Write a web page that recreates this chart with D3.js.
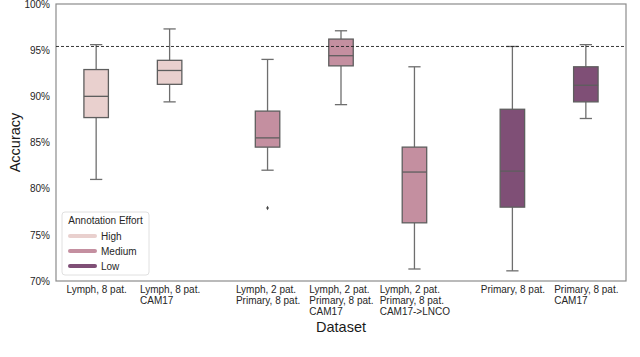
<!DOCTYPE html>
<html>
<head>
<meta charset="utf-8">
<script src="https://cdnjs.cloudflare.com/ajax/libs/d3/7.8.5/d3.min.js"></script>
<style>
  body { margin: 0; background: #fff; }
  svg { font-family: "Liberation Sans", Arial, sans-serif; }
  .tick-label { font-size: 10px; fill: #262626; }
  .axis-title { font-size: 14.5px; fill: #1a1a1a; }
</style>
</head>
<body>
<div class="js-chart"></div>
<script>
/**
 * Data
 */
var datasets = [
  ['Lymph, 8 pat.'],
  ['Lymph, 8 pat.', 'CAM17'],
  ['Lymph, 2 pat.', 'Primary, 8 pat.'],
  ['Lymph, 2 pat.', 'Primary, 8 pat.', 'CAM17'],
  ['Lymph, 2 pat.', 'Primary, 8 pat.', 'CAM17->LNCO'],
  ['Primary, 8 pat.'],
  ['Primary, 8 pat.', 'CAM17']
];
var efforts = ['High', 'High', 'Medium', 'Medium', 'Medium', 'Low', 'Low'];
var whiskerLow = [81.0, 89.4, 82.0, 89.1, 71.3, 71.1, 87.6];
var q1 = [87.7, 91.3, 84.5, 93.3, 76.3, 78.0, 89.4];
var median = [90.0, 92.8, 85.5, 94.4, 81.8, 81.9, 91.2];
var q3 = [92.9, 93.9, 88.4, 96.2, 84.5, 88.6, 93.2];
var whiskerHigh = [95.6, 97.3, 94.0, 97.1, 93.2, 95.4, 95.6];
var outliers = [[], [], [77.9], [], [], [], []];
var baseline = 95.4;

var effortLevels = ['High', 'Medium', 'Low'];
var effortColors = ['#e9d0ce', '#c48fa0', '#7f4f76'];
var yTicks = [70, 75, 80, 85, 90, 95, 100];

/**
 * Chart setup
 */
var width = 640;
var height = 357;
var plotLeft = 56;
var plotRight = 626;
var plotTop = 4;
var plotBottom = 281;

var svg = d3.select('.js-chart').append('svg')
  .attr('width', width)
  .attr('height', height);

// hue dodge: each effort level gets a third of the category slot
var effortOffset = d3.scaleOrdinal()
  .domain(effortLevels)
  .range([-1 / 3, 0, 1 / 3]);

var color = d3.scaleOrdinal()
  .domain(effortLevels)
  .range(effortColors);

var x = d3.scaleLinear()
  .domain([-0.88, datasets.length - 1 + 0.88])
  .range([plotLeft, plotRight]);

var y = d3.scaleLinear()
  .domain([70, 100])
  .range([plotBottom, plotTop]);

var boxWidth = x(1 / 3) - x(0);
var capWidth = boxWidth / 2;

var rows = datasets.map(function(d, i) {
  return {
    label: d,
    effort: efforts[i],
    pos: i + effortOffset(efforts[i]),
    lo: whiskerLow[i],
    q1: q1[i],
    med: median[i],
    q3: q3[i],
    hi: whiskerHigh[i],
    out: outliers[i]
  };
});

/**
 * Axes
 */
var yAxis = d3.axisLeft(y)
  .tickValues(yTicks)
  .tickSize(0)
  .tickPadding(6)
  .tickFormat(function(d) { return d + '%'; });

var yAxisG = svg.append('g')
  .attr('transform', 'translate(' + plotLeft + ',0)')
  .call(yAxis);
yAxisG.select('.domain').remove();
yAxisG.selectAll('text')
  .attr('class', 'tick-label')
  .style('font-family', null)
  .style('font-size', null);

var xAxis = d3.axisBottom(x)
  .tickValues(rows.map(function(d) { return d.pos; }))
  .tickSize(0)
  .tickFormat('');

var xAxisG = svg.append('g')
  .attr('transform', 'translate(0,' + plotBottom + ')')
  .call(xAxis);
xAxisG.select('.domain').remove();

// multi-line tick labels, left aligned inside a centred block
xAxisG.selectAll('.tick').each(function(d, i) {
  var tick = d3.select(this);
  var t = tick.append('text')
    .attr('class', 'tick-label')
    .attr('text-anchor', 'start')
    .attr('y', 12);
  rows[i].label.forEach(function(line, j) {
    t.append('tspan')
      .attr('x', 0)
      .attr('dy', j === 0 ? 0 : 11)
      .text(line);
  });
  var w = t.node().getBBox().width;
  t.attr('transform', 'translate(' + (-w / 2) + ',0)');
});

// frame
svg.append('rect')
  .attr('x', plotLeft)
  .attr('y', plotTop)
  .attr('width', plotRight - plotLeft)
  .attr('height', plotBottom - plotTop)
  .attr('fill', 'none')
  .attr('stroke', '#8c8c8c')
  .attr('stroke-width', 1.2);

/**
 * Boxes
 */
var boxes = svg.append('g').selectAll('g')
  .data(rows)
  .enter().append('g')
  .attr('transform', function(d) { return 'translate(' + x(d.pos) + ',0)'; });

boxes.append('line')
  .attr('x1', 0).attr('x2', 0)
  .attr('y1', function(d) { return y(d.q3); })
  .attr('y2', function(d) { return y(d.hi); })
  .attr('stroke', '#6e6e6e').attr('stroke-width', 1.3);

boxes.append('line')
  .attr('x1', 0).attr('x2', 0)
  .attr('y1', function(d) { return y(d.q1); })
  .attr('y2', function(d) { return y(d.lo); })
  .attr('stroke', '#6e6e6e').attr('stroke-width', 1.3);

boxes.selectAll('.cap')
  .data(function(d) { return [d.lo, d.hi]; })
  .enter().append('line')
  .attr('class', 'cap')
  .attr('x1', -capWidth / 2).attr('x2', capWidth / 2)
  .attr('y1', function(v) { return y(v); })
  .attr('y2', function(v) { return y(v); })
  .attr('stroke', '#6e6e6e').attr('stroke-width', 1.3);

boxes.append('rect')
  .attr('x', -boxWidth / 2)
  .attr('width', boxWidth)
  .attr('y', function(d) { return y(d.q3); })
  .attr('height', function(d) { return y(d.q1) - y(d.q3); })
  .attr('fill', function(d) { return color(d.effort); })
  .attr('stroke', '#5e5e5e')
  .attr('stroke-width', 1.3);

boxes.append('line')
  .attr('x1', -boxWidth / 2).attr('x2', boxWidth / 2)
  .attr('y1', function(d) { return y(d.med); })
  .attr('y2', function(d) { return y(d.med); })
  .attr('stroke', '#5e5e5e').attr('stroke-width', 1.3);

boxes.selectAll('.outlier')
  .data(function(d) { return d.out; })
  .enter().append('path')
  .attr('class', 'outlier')
  .attr('transform', function(v) { return 'translate(0,' + y(v) + ')'; })
  .attr('d', d3.symbol(d3.symbolDiamond, 6))
  .attr('fill', '#444');

// reference line
svg.append('line')
  .attr('x1', plotLeft).attr('x2', plotRight)
  .attr('y1', y(baseline)).attr('y2', y(baseline))
  .attr('stroke', '#222')
  .attr('stroke-width', 0.9)
  .attr('stroke-dasharray', '3,2');

/**
 * Axis titles
 */
svg.append('text')
  .attr('class', 'axis-title')
  .attr('text-anchor', 'middle')
  .attr('transform', 'translate(20,' + (plotTop + plotBottom) / 2 + ') rotate(-90)')
  .text('Accuracy');

svg.append('text')
  .attr('class', 'axis-title')
  .attr('text-anchor', 'middle')
  .attr('x', (plotLeft + plotRight) / 2)
  .attr('y', 332)
  .text('Dataset');

/**
 * Legend
 */
var legend = svg.append('g')
  .attr('transform', 'translate(62,212)');

legend.append('rect')
  .attr('width', 87)
  .attr('height', 63)
  .attr('rx', 3)
  .attr('fill', '#fff')
  .attr('stroke', '#e0e0e0');

legend.append('text')
  .attr('class', 'tick-label')
  .attr('x', 43.5)
  .attr('y', 12)
  .attr('text-anchor', 'middle')
  .text('Annotation Effort');

var legendItem = legend.selectAll('.legend-item')
  .data(effortLevels)
  .enter().append('g')
  .attr('class', 'legend-item')
  .attr('transform', function(d, i) { return 'translate(0,' + (24 + i * 15) + ')'; });

legendItem.append('line')
  .attr('x1', 8).attr('x2', 33)
  .attr('stroke', function(d) { return color(d); })
  .attr('stroke-width', 4)
  .attr('stroke-linecap', 'round');

legendItem.append('text')
  .attr('class', 'tick-label')
  .attr('x', 39)
  .attr('dy', '0.35em')
  .text(function(d) { return d; });
</script>
</body>
</html>
